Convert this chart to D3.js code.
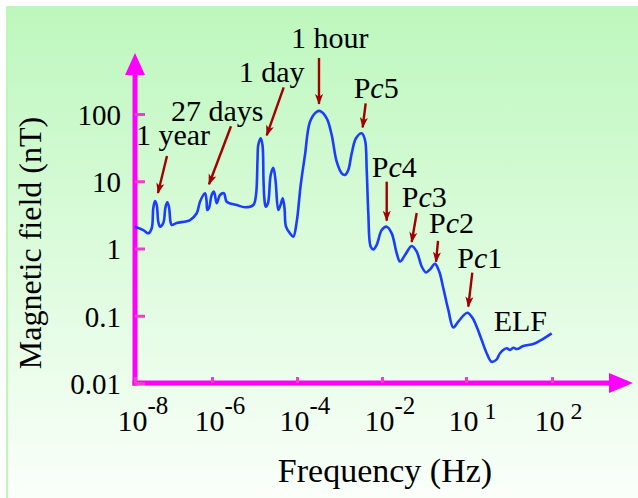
<!DOCTYPE html>
<html>
<head>
<meta charset="utf-8">
<script src="https://cdn.jsdelivr.net/npm/d3@7"></script>
<style>
  html, body { margin: 0; padding: 0; background: #fff; }
  svg { display: block; }
  text { font-family: "Liberation Serif", "Times New Roman", Times, serif; fill: #000; }
</style>
</head>
<body>
<svg id="chart" width="638" height="498"></svg>
<script>
// Geomagnetic field spectrum: amplitude (nT) versus log10 frequency (Hz)
const logFreq = [
  -8.000,-7.784,-7.655,-7.566,-7.525,-7.481,-7.436,-7.395,-7.351,-7.265,
  -7.208,-7.161,-7.117,-7.078,-7.047,-6.917,-6.571,-6.397,-6.312,-6.182,
  -6.143,-6.122,-6.078,-6.008,-5.953,-5.889,-5.812,-5.718,-5.654,-5.419,
  -5.224,-5.028,-4.965,-4.929,-4.911,-4.854,-4.812,-4.788,-4.765,-4.736,
  -4.682,-4.619,-4.558,-4.506,-4.440,-4.388,-4.336,-4.294,-4.259,-4.165,
  -4.087,-4.007,-3.913,-3.812,-3.694,-3.536,-3.459,-3.301,-3.184,-3.066,
  -2.948,-2.871,-2.793,-2.713,-2.612,-2.478,-2.400,-2.360,-2.322,-2.266,
  -2.205,-2.125,-2.007,-1.888,-1.769,-1.650,-1.571,-1.452,-1.293,-1.174,
  -1.055,-0.952,-0.857,-0.738,-0.636,-0.540,-0.421,-0.302,-0.183,0.030,
  0.156,0.263,0.365,0.481,0.598,0.714,0.791,0.947,1.023,1.100,
  1.186,1.333,1.565,1.721,1.993
];
const fieldNT = [
  2.11,1.88,1.68,2.00,3.96,5.08,4.43,2.50,2.11,2.39,
  4.14,4.86,4.14,2.48,2.24,2.39,2.65,3.34,4.96,6.62,
  5.26,3.74,4.00,6.24,7.00,4.70,6.24,6.62,4.96,4.43,
  4.10,4.43,6.24,20.7,34.6,43.5,34.6,10.4,5.26,4.19,
  4.75,12.4,15.9,10.4,3.74,4.43,5.58,4.00,2.11,1.68,
  1.50,2.50,8.80,24.6,76.8,108,111,86.3,48.7,19.5,
  13.1,12.4,14.7,26.0,43.5,51.6,41.0,14.7,3.34,1.06,
  0.97,1.13,1.88,2.11,1.68,0.85,0.64,0.80,1.09,0.90,
  0.54,0.44,0.49,0.59,0.45,0.256,0.122,0.067,0.082,0.111,
  0.092,0.065,0.0436,0.0277,0.0207,0.0225,0.0277,0.0328,0.0310,0.0335,
  0.0321,0.0355,0.0380,0.0426,0.0548
];

// Axis ticks
const xTickExp = [-8, -6, -4, -2, 0, 2];
const xTickSup = ["-8", "-6", "-4", "-2", "1", "2"];
const yTickValues = [100, 10, 1, 0.1, 0.01];
const yTickLabels = ["100", "10", "1", "0.1", "0.01"];

// Marked periodicities (peak frequency and amplitude)
const annotLabels = ["1 year", "27 days", "1 day", "1 hour", "Pc5", "Pc4", "Pc3", "Pc2", "Pc1"];
const annotFreq   = [-7.481, -6.182, -4.854, -3.459, -2.478, -1.888, -1.293, -0.738, 0.030];
const annotField  = [5.08, 6.62, 43.5, 111, 51.6, 2.11, 1.09, 0.59, 0.111];

// Layout of annotation arrows and labels, in pixels relative to each peak
const annotLayout = [
  { tip: [3, -8],  tail: [12, -45], text: [-19, -56] },
  { tip: [4, -9],  tail: [26, -67], text: [-34, -72] },
  { tip: [6, -3],  tail: [23, -51], text: [-22, -56] },
  { tip: [-1, -7], tail: [-1, -53], text: [-29, -63] },
  { tip: [1, -6],  tail: [4, -30],  text: [-8, -35] },
  { tip: [0, -6],  tail: [0, -45],  text: [-15, -50] },
  { tip: [0, -4],  tail: [5, -33],  text: [-10, -39] },
  { tip: [1, -2],  tail: [3, -23],  text: [-6, -31] },
  { tip: [1, -6],  tail: [5, -40],  text: [-10, -45] }
];

const W = 638, H = 498;
const svg = d3.select("#chart");
const defs = svg.append("defs");

// Background panel with a soft green gradient
const grad = defs.append("linearGradient")
  .attr("id", "bg").attr("x1", 0).attr("y1", 0).attr("x2", 0).attr("y2", 1);
grad.append("stop").attr("offset", "0%").attr("stop-color", "#bdf7bd");
grad.append("stop").attr("offset", "100%").attr("stop-color", "#fafffa");
svg.append("rect")
  .attr("x", 6).attr("y", 6).attr("width", W - 6).attr("height", H - 6)
  .attr("fill", "url(#bg)");
svg.append("line")
  .attr("x1", 7).attr("x2", 7).attr("y1", 6).attr("y2", H)
  .attr("stroke", "#bdf5bd").attr("stroke-width", 2);

// Scales
const x = d3.scaleLinear().domain(xTickExp).range([135, 212, 297, 382, 466, 552]);
const y = d3.scaleLog().domain([0.01, 100]).range([383, 114]);

const axisColor = "#ff00ff";
const tickColor = "#ee3fcc";
const x0 = x(xTickExp[0]);
const y0 = y(0.01);

// Axis lines with arrow heads
svg.append("line")
  .attr("x1", x0).attr("y1", y0).attr("x2", x0).attr("y2", 74)
  .attr("stroke", axisColor).attr("stroke-width", 5).attr("stroke-linecap", "square");
svg.append("path")
  .attr("d", `M${x0 - 10},75 L${x0 + 10},75 L${x0},53 Z`)
  .attr("fill", axisColor);
svg.append("line")
  .attr("x1", x0).attr("y1", y0).attr("x2", 610).attr("y2", y0)
  .attr("stroke", axisColor).attr("stroke-width", 5).attr("stroke-linecap", "square");
svg.append("path")
  .attr("d", `M609,${y0 - 10} L609,${y0 + 10} L633,${y0} Z`)
  .attr("fill", axisColor);

// Y axis ticks and labels
const yAxis = d3.axisLeft(y)
  .tickValues(yTickValues)
  .tickFormat((d, i) => yTickLabels[i])
  .tickSizeInner(-10).tickSizeOuter(0).tickPadding(14);
const gy = svg.append("g").attr("transform", `translate(${x0},0)`).call(yAxis);
gy.select(".domain").remove();
gy.selectAll(".tick line").attr("stroke", tickColor).attr("stroke-width", 3);
gy.selectAll(".tick text")
  .attr("font-size", 29).attr("fill", "#000")
  .attr("font-family", "'Liberation Serif', 'Times New Roman', serif")
  .attr("dy", "0.36em");

// X axis ticks and power-of-ten labels
const xAxis = d3.axisBottom(x)
  .tickValues(xTickExp)
  .tickFormat(() => "")
  .tickSizeInner(-6).tickSizeOuter(0);
const gx = svg.append("g").attr("transform", `translate(0,${y0})`).call(xAxis);
gx.select(".domain").remove();
gx.selectAll(".tick line").attr("stroke", tickColor).attr("stroke-width", 3);
gx.selectAll(".tick text").each(function (d, i) {
  const t = d3.select(this);
  const sup = xTickSup[i];
  const positive = !sup.startsWith("-");
  t.text(null)
    .attr("x", -18).attr("y", 48).attr("dy", null)
    .attr("text-anchor", "start").attr("fill", "#000")
    .attr("font-size", 30)
    .attr("font-family", "'Liberation Serif', 'Times New Roman', serif");
  t.append("tspan").text("10");
  t.append("tspan")
    .attr("dx", positive ? 6 : 0)
    .attr("dy", positive ? -12 : -17)
    .attr("font-size", positive ? 24 : 25)
    .text(sup);
});

// Spectrum curve
const pts = logFreq.map((f, i) => [f, fieldNT[i]]);
const line = d3.line()
  .x(d => x(d[0]))
  .y(d => y(d[1]))
  .curve(d3.curveCatmullRom.alpha(0.5));
svg.append("path")
  .datum(pts)
  .attr("d", line)
  .attr("fill", "none")
  .attr("stroke", "#1a3dff")
  .attr("stroke-width", 2.6)
  .attr("stroke-linejoin", "round");

// Annotation arrows
const arrowColor = "#a00000";
defs.append("marker")
  .attr("id", "ah")
  .attr("viewBox", "0 -5 12 10")
  .attr("refX", 11).attr("refY", 0)
  .attr("markerWidth", 11).attr("markerHeight", 9)
  .attr("markerUnits", "userSpaceOnUse")
  .attr("orient", "auto")
  .append("path")
  .attr("d", "M0,-4.5L12,0L0,4.5L3,0Z")
  .attr("fill", arrowColor);

const annots = annotLabels.map((label, i) => ({
  label, px: x(annotFreq[i]), py: y(annotField[i]), lay: annotLayout[i]
}));

const ag = svg.append("g");
ag.selectAll("line")
  .data(annots)
  .join("line")
  .attr("x1", d => d.px + d.lay.tail[0])
  .attr("y1", d => d.py + d.lay.tail[1])
  .attr("x2", d => d.px + d.lay.tip[0])
  .attr("y2", d => d.py + d.lay.tip[1])
  .attr("stroke", arrowColor)
  .attr("stroke-width", 2.4)
  .attr("marker-end", "url(#ah)");

ag.selectAll("text")
  .data(annots)
  .join("text")
  .attr("x", d => d.px + d.lay.text[0])
  .attr("y", d => d.py + d.lay.text[1])
  .attr("font-size", 30)
  .each(function (d) {
    const t = d3.select(this);
    if (d.label.startsWith("Pc")) {
      t.append("tspan").text("P");
      t.append("tspan").attr("font-style", "italic").text("c");
      t.append("tspan").text(d.label.slice(2));
    } else {
      t.text(d.label);
    }
  });

// ELF band label at the high-frequency end of the curve
const lastF = logFreq[logFreq.length - 1];
const lastB = fieldNT[fieldNT.length - 1];
svg.append("text")
  .attr("x", x(lastF) - 58).attr("y", y(lastB) - 2)
  .attr("font-size", 30)
  .text("ELF");

// Axis titles
svg.append("text")
  .attr("x", 385).attr("y", 482)
  .attr("text-anchor", "middle")
  .attr("font-size", 34)
  .text("Frequency (Hz)");
svg.append("text")
  .attr("transform", "translate(41,243) rotate(-90)")
  .attr("text-anchor", "middle")
  .attr("font-size", 32)
  .text("Magnetic field (nT)");
</script>
</body>
</html>
